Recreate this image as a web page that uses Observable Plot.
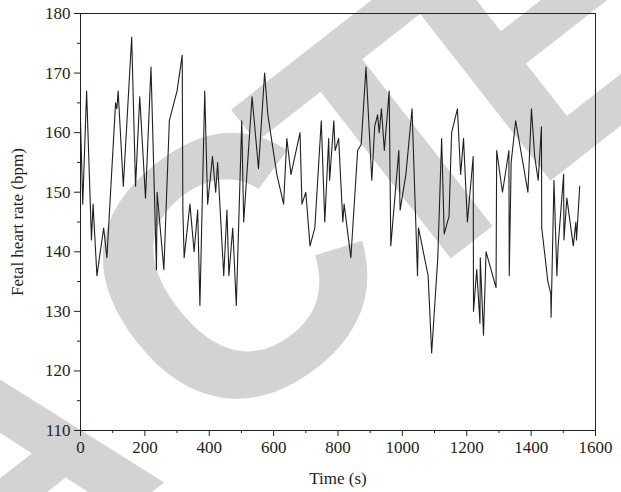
<!DOCTYPE html>
<html>
<head>
<meta charset="utf-8">
<script src="https://cdn.jsdelivr.net/npm/d3@7"></script>
<script src="https://cdn.jsdelivr.net/npm/@observablehq/plot@0.6"></script>
<style>
  html, body { margin: 0; padding: 0; background: #fff; }
  #wrap { position: relative; width: 621px; height: 492px; overflow: hidden; }
  #wm { position: absolute; left: 0; top: 0; z-index: 0; }
  #chart { position: absolute; left: 0; top: 0; z-index: 1; }
</style>
</head>
<body>
<div id="wrap"><div id="wm"></div><div id="chart"></div></div>
<script>
// Time (s)
const times = [0,7,19,34,39,51,72,82,109,113,
  117,133,159,171,184,202,219,236,238,259,
  276,300,316,318,322,340,353,364,371,386,
  395,410,420,426,445,455,461,473,484,501,
  507,533,553,572,582,610,631,641,654,682,
  688,700,713,728,748,759,771,774,787,791,
  802,815,819,840,861,872,887,905,914,923,
  928,935,944,959,964,989,993,1011,1030,1047,
  1050,1080,1091,1110,1122,1130,1145,1153,1171,1181,
  1190,1202,1220,1221,1231,1241,1242,1252,1260,1291,
  1293,1311,1331,1332,1338,1352,1390,1401,1411,1422,
  1432,1433,1452,1461,1462,1471,1480,1484,1501,1502,
  1511,1531,1539,1541,1551];
// Fetal heart rate (bpm)
const rates = [162,148,167,142,148,136,144,139,165,164,
  167,151,176,151,166,149,171,137,150,137,
  162,167,173,147,139,148,140,147,131,167,
  148,156,150,155,136,147,136,144,131,162,
  145,166,154,170,163,153,148,159,153,160,
  148,150,141,144,162,145,159,152,162,157,
  159,145,148,139,157,158,171,152,161,163,
  160,164,157,167,141,157,147,153,164,136,
  144,136,123,139,159,143,146,160,164,153,
  159,145,156,130,137,128,139,126,140,134,
  157,150,157,136,155,162,150,164,156,152,
  161,144,135,133,129,152,136,141,153,142,
  149,141,145,142,151];

const xMajor = [0,200,400,600,800,1000,1200,1400,1600];
const xMinor = [100,300,500,700,900,1100,1300,1500];
const yMajor = [110,120,130,140,150,160,170,180];
const yMinor = [115,125,135,145,155,165,175];
const xLabel = "Time (s)";
const yLabel = "Fetal heart rate (bpm)";
const watermark = "RETRACTED";

const data = times.map((t, i) => ({t, v: rates[i]}));
const ink = "#231f20";

// watermark behind the chart
const S = 367;
const tight = -0.1 * S;
const wm = d3.create("svg").attr("width", 621).attr("height", 492);
wm.append("text")
  .attr("transform", "translate(215,293) rotate(-38)")
  .attr("x", -1371).attr("y", 118)
  .attr("dx", [0, 0, 0, 0, -40, 40, tight, tight, tight].join(" "))
  .attr("font-family", "Liberation Sans, Arial, sans-serif")
  .attr("font-weight", "bold")
  .attr("font-size", S)
  .attr("fill", "#d3d3d3")
  .text(watermark);
document.getElementById("wm").appendChild(wm.node());

const chart = Plot.plot({
  width: 621,
  height: 492,
  marginLeft: 80,
  marginRight: 26,
  marginTop: 13,
  marginBottom: 62,
  style: {fontFamily: "Liberation Serif, serif", fontSize: "17px", background: "transparent", color: ink},
  x: {domain: [0, 1600]},
  y: {domain: [110, 180]},
  marks: [
    Plot.line(data, {x: "t", y: "v", stroke: ink, strokeWidth: 1.1}),
    Plot.frame({stroke: ink, strokeWidth: 1}),
    Plot.axisX({ticks: xMinor, tickSize: 3, tickFormat: () => "", label: null, stroke: ink}),
    Plot.axisX({ticks: xMajor, tickSize: 6, tickPadding: 4, tickFormat: d => String(d),
      fontSize: 17, label: xLabel, labelAnchor: "center", labelArrow: "none", labelOffset: 53, stroke: ink, fill: ink}),
    Plot.axisY({ticks: yMinor, tickSize: 3, tickFormat: () => "", label: null, stroke: ink}),
    Plot.axisY({ticks: yMajor, tickSize: 6, tickPadding: 4, tickFormat: d => String(d),
      fontSize: 17, label: yLabel, labelAnchor: "center", labelArrow: "none", labelOffset: 70, stroke: ink, fill: ink})
  ]
});
document.getElementById("chart").appendChild(chart);
</script>
</body>
</html>
